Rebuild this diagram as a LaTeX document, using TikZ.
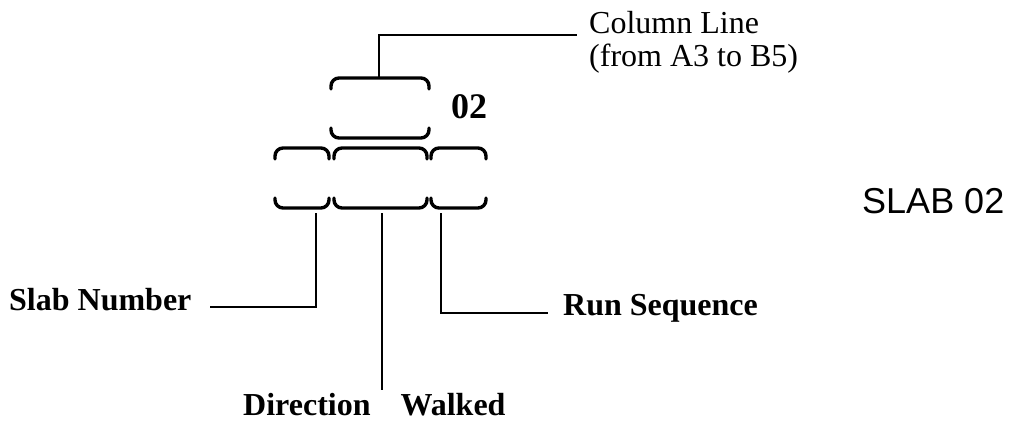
\documentclass[tikz,border=0pt]{standalone}
\usepackage{fontspec}
\setmainfont{Liberation Serif}
\newfontfamily\helv{Liberation Sans}
\begin{document}
\begin{tikzpicture}[x=1pt,y=-1pt,
  slot/.style={minimum width=#1, minimum height=60pt, inner sep=0pt, outer sep=0pt},
  br/.style={line width=3.4pt, rounded corners=8pt, line cap=round},
  conn/.style={line width=2pt},
  lab/.style={inner sep=0pt, font=\fontsize{32}{38}\selectfont\bfseries},
  plain/.style={inner sep=0pt, font=\fontsize{32}{33}\selectfont}]
\useasboundingbox (0,0) rectangle (1012,424);
\newcommand\drawslot[1]{%
  \draw[br] ([yshift=-11pt]#1.north west) -- (#1.north west) -- (#1.north east) -- ([yshift=-11pt]#1.north east);
  \draw[br] ([yshift=10pt]#1.south west) -- (#1.south west) -- (#1.south east) -- ([yshift=10pt]#1.south east);}
% slots
\node[slot=98pt] (tb) at (380,108) {};
\node[slot=54pt] (b1) at (302,178) {};
\node[slot=93pt] (b2) at (380.5,178) {};
\node[slot=55pt] (b3) at (458.5,178) {};
\drawslot{tb}\drawslot{b1}\drawslot{b2}\drawslot{b3}
% texts
\node[lab, font=\fontsize{36}{40}\selectfont\bfseries, anchor=base west] (num) at (451,118) {02};
\node[plain, anchor=base west] (col1) at (589,33) {Column Line};
\node[plain, anchor=base west] (col2) at (589,66) {(from A3 to B5)};
\node[lab, anchor=base west] (slab) at (9,310) {Slab Number};
\node[lab, anchor=base west] (run) at (563,315) {Run Sequence};
\node[lab, anchor=base west] (dir) at (243,415) {Direction\hspace{30pt}Walked};
\node[inner sep=0pt, font=\helv\fontsize{36}{40}\selectfont, anchor=base west] (title) at (862,213) {SLAB 02};
% connector ends
\coordinate (clEnd) at (577,35);
\coordinate (snEnd) at (210,307);
\coordinate (snTop) at (316,213);
\coordinate (dwTop) at (382,213);
\coordinate (dwEnd) at (382,390);
\coordinate (rsTop) at (441,213);
\coordinate (rsEnd) at (548,313);
% connectors
\draw[conn] ([xshift=-1pt]tb.north) |- (clEnd);
\draw[conn] (snEnd) -| (snTop);
\draw[conn] (dwTop) -- (dwEnd);
\draw[conn] (rsTop) |- (rsEnd);
\end{tikzpicture}
\end{document}
